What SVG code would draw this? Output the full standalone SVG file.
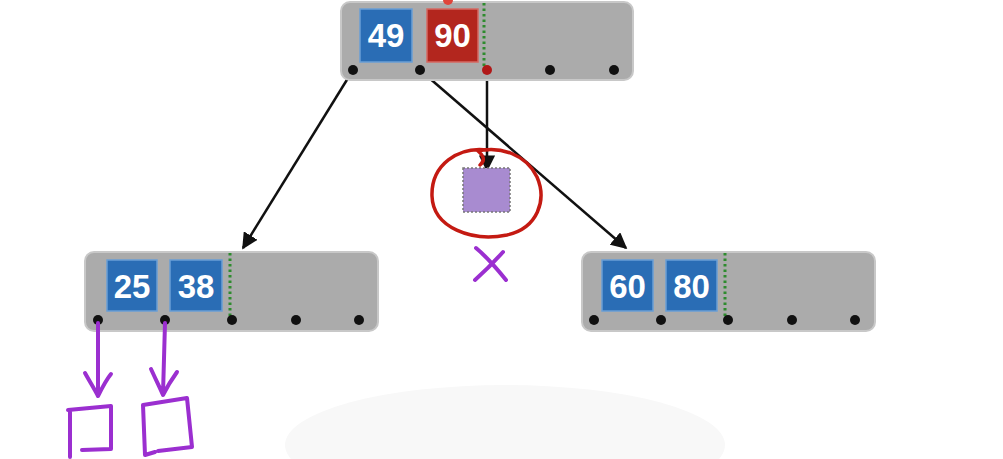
<svg xmlns="http://www.w3.org/2000/svg" width="1003" height="459" viewBox="0 0 1003 459">
<defs>
<style>
.node{fill:#ababab;stroke:#c8c8c8;stroke-width:2}
.key{fill:#2a6db5;stroke:#6a9fd6;stroke-width:1.5}
.kred{fill:#b3261e;stroke:#d66a63;stroke-width:1.5}
.kt{font-family:"Liberation Sans",Arial,sans-serif;font-size:33px;font-weight:bold;fill:#fff;text-anchor:middle}
.sep{stroke:#2e8b2e;stroke-width:3;stroke-dasharray:2.5 3}
.dot{fill:#111}
.edge{stroke:#111;stroke-width:2.5;fill:none}
.purple{stroke:#9b2fd0;stroke-width:4;fill:none;stroke-linecap:round;stroke-linejoin:round}
</style>
<marker id="ah" viewBox="0 0 10 10" refX="9" refY="5" markerWidth="6.5" markerHeight="6.5" orient="auto" markerUnits="strokeWidth">
<path d="M0,0 L10,5 L0,10 z" fill="#111"/>
</marker>
</defs>
<rect width="1003" height="459" fill="#fff"/>
<ellipse cx="505" cy="445" rx="220" ry="60" fill="#f8f8f8"/>

<g id="connectors">
<line class="edge" x1="353" y1="70" x2="243" y2="248" marker-end="url(#ah)"/>
<line class="edge" x1="420" y1="70" x2="626" y2="248" marker-end="url(#ah)"/>
<line class="edge" x1="487" y1="70" x2="487" y2="170" marker-end="url(#ah)"/>
</g>

<g id="node-root">
<rect class="node" x="341" y="2" width="292" height="78" rx="9"/>
<rect class="key" x="360" y="9" width="52" height="53"/>
<text class="kt" x="386" y="47">49</text>
<rect class="kred" x="427" y="9" width="51" height="53"/>
<text class="kt" x="452.5" y="47">90</text>
<line class="sep" x1="484" y1="3" x2="484" y2="66"/>
<circle cx="448" cy="0" r="5" fill="#e0443a"/>
<circle class="dot" cx="353" cy="70" r="5"/>
<circle class="dot" cx="420" cy="70" r="5"/>
<circle cx="487" cy="70" r="5" fill="#b01818"/>
<circle class="dot" cx="550" cy="70" r="5"/>
<circle class="dot" cx="614" cy="70" r="5"/>
</g>

<g id="node-left">
<rect class="node" x="85" y="252" width="293" height="79" rx="9"/>
<rect class="key" x="107" y="260" width="50" height="51"/>
<text class="kt" x="132" y="298">25</text>
<rect class="key" x="170" y="260" width="52" height="51"/>
<text class="kt" x="196" y="298">38</text>
<line class="sep" x1="230" y1="253" x2="230" y2="316"/>
<circle class="dot" cx="98" cy="320" r="5"/>
<circle class="dot" cx="165" cy="320" r="5"/>
<circle class="dot" cx="232" cy="320" r="5"/>
<circle class="dot" cx="296" cy="320" r="5"/>
<circle class="dot" cx="359" cy="320" r="5"/>
</g>

<g id="node-right">
<rect class="node" x="582" y="252" width="293" height="79" rx="9"/>
<rect class="key" x="602" y="260" width="51" height="51"/>
<text class="kt" x="627.5" y="298">60</text>
<rect class="key" x="666" y="260" width="51" height="51"/>
<text class="kt" x="691.5" y="298">80</text>
<line class="sep" x1="725" y1="253" x2="725" y2="316"/>
<circle class="dot" cx="594" cy="320" r="5"/>
<circle class="dot" cx="661" cy="320" r="5"/>
<circle class="dot" cx="728" cy="320" r="5"/>
<circle class="dot" cx="792" cy="320" r="5"/>
<circle class="dot" cx="855" cy="320" r="5"/>
</g>

<g id="removed-child">
<rect x="463" y="168" width="47" height="44" fill="#a88bd0" stroke="#777" stroke-width="1.5" stroke-dasharray="2 2"/>
<path d="M488,150 C458,146 431,165 432,196 C433,228 472,242 507,235 C538,228 547,200 537,177 C526,154 500,146 478,151 C483,155 486,160 480,165" fill="none" stroke="#c41a12" stroke-width="3.5" stroke-linecap="round"/>
<path class="purple" d="M476,248 C488,258 498,270 506,280 M503,252 C494,262 484,272 475,280"/>
</g>

<g id="sketch-children">
<path class="purple" d="M98,323 L98,395 M85,373 C90,382 95,390 98,396 C102,388 106,380 111,374"/>
<path class="purple" d="M165,323 L163,394 M151,369 C156,380 160,388 163,395 C167,387 172,379 177,372"/>
<path class="purple" d="M68,410 L111,406 L111,449 L82,450 M70,410 L70,457"/>
<path class="purple" d="M143,405 L187,398 L192,447 L158,451 M143,405 L145,455 L155,452"/>
</g>
</svg>
